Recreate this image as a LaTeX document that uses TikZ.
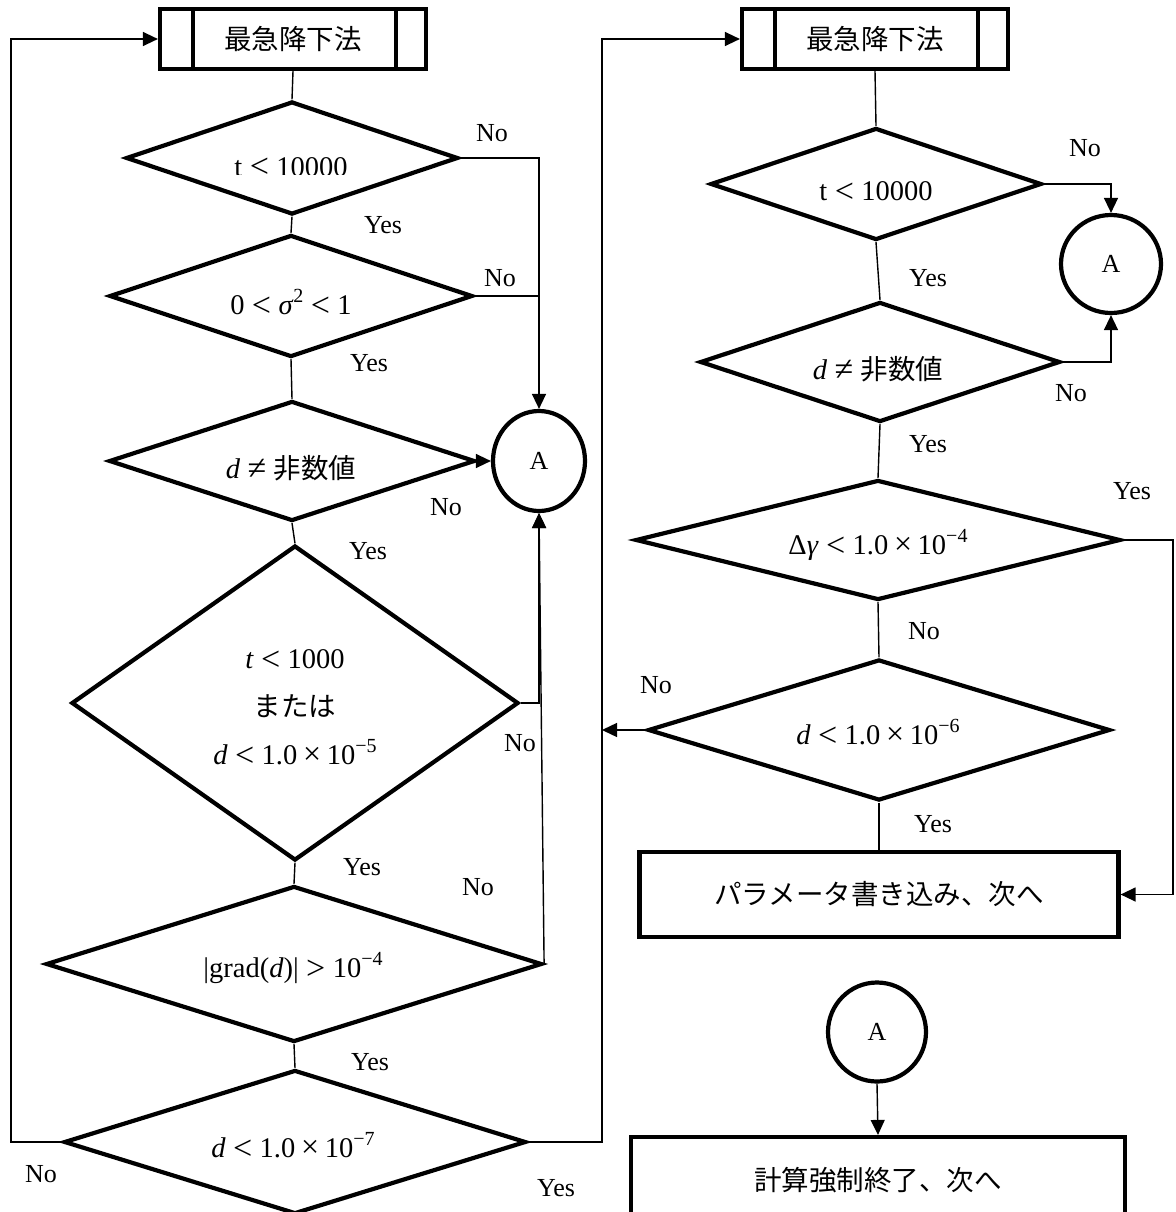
\documentclass[tikz,border=0pt]{standalone}
\usepackage{fontspec}
\setmainfont{Liberation Serif}
\newfontfamily\jpfont{Noto Sans CJK JP}
\usetikzlibrary{shapes.geometric,arrows.meta}

% Japanese text and formula text at the sizes used in the chart
\newcommand\jtxt[1]{{\jpfont\fontsize{27.5}{33}\selectfont #1}}
\newcommand\fml[1]{{\fontsize{28.5}{32}\selectfont #1}}
\newcommand\rel[1]{\hspace{0.26em}\raisebox{-1.5pt}{\fontsize{34}{34}\selectfont #1}\hspace{0.26em}}
\newcommand\bin[1]{\hspace{0.2em}{\fontsize{32}{32}\selectfont #1}\hspace{0.2em}}
\newcommand\sups[1]{\raisebox{0.42em}{\fontsize{20}{22}\selectfont #1}}

\tikzset{
  every node/.style={font=\fontsize{26}{30}\selectfont},
  shapeline/.style={draw=black, line width=4.2pt, line join=miter},
  decision/.style={shapeline, diamond, inner sep=0pt},
  procbox/.style={shapeline, rectangle, inner sep=0pt},
  subproc/.style={procbox, path picture={
      \draw[line width=4.2pt]
        ([xshift=33pt]path picture bounding box.north west) --
        ([xshift=33pt]path picture bounding box.south west);
      \draw[line width=4.2pt]
        ([xshift=-30pt]path picture bounding box.north east) --
        ([xshift=-30pt]path picture bounding box.south east);}},
  joint/.style={shapeline, ellipse, inner sep=0pt},
  txt/.style={inner sep=0pt},
  flow/.style={line width=1.4pt},
  arrow/.style={flow, -{Triangle[length=15pt,width=14pt]}},
}

\begin{document}
\begin{tikzpicture}[x=1pt,y=-1pt]
\useasboundingbox (0,0) rectangle (1175,1212);
\clip (0,0) rectangle (1175,1212);

% rails carrying the loop-back lines
\coordinate (lrail) at (11,0);
\coordinate (mrail) at (602,0);
\coordinate (rrail) at (1173,0);

% ---------------- left column ----------------
\node[subproc, minimum width=266pt, minimum height=60pt] (box1) at (293,39) {\jtxt{最急降下法}};
\node[decision, minimum width=332pt, minimum height=113pt] (d1) at (292,158) {};
\begin{scope}
  \clip (100,100) rectangle (480,174);
  \node[txt, anchor=base] (d1t) at (291,176) {\fml{t\rel{<}10000}};
\end{scope}
\node[decision, minimum width=363pt, minimum height=122pt] (d2) at (291,296) {};
\node[txt] (d2t) at (291,303) {\fml{0\rel{<}\textit{σ}\sups{2}\rel{<}1}};
\node[decision, minimum width=366pt, minimum height=120pt] (d3) at (292,461) {};
\node[txt] (d3t) at (291,468) {\fml{\textit{d}\rel{≠}}\jtxt{非数値}};
\node[joint, minimum width=92pt, minimum height=100pt] (A1) at (539,461) {A};
\node[decision, minimum width=447pt, minimum height=315pt] (d4) at (295,703) {};
\node[txt, align=center, font=\fontsize{28}{48}\selectfont] (d4t) at (295,708)
  {\fml{\textit{t}\rel{<}1000}\\ \jtxt{または}\\ \fml{\textit{d}\rel{<}1.0\bin{×}10\sups{−5}}};
\node[decision, minimum width=496pt, minimum height=156pt] (d5) at (294,964) {};
\node[txt] (d5t) at (293,968) {\fml{|grad(\textit{d})|\rel{>}10\sups{−4}}};
\node[decision, minimum width=462pt, minimum height=144pt] (d6) at (295,1142) {};
\node[txt] (d6t) at (293,1146) {\fml{\textit{d}\rel{<}1.0\bin{×}10\sups{−7}}};

% ---------------- right column ----------------
\node[subproc, minimum width=266pt, minimum height=60pt] (box2) at (875,39) {\jtxt{最急降下法}};
\node[decision, minimum width=331pt, minimum height=112pt] (d7) at (876,184) {};
\node[txt] (d7t) at (876,192) {\fml{t\rel{<}10000}};
\node[joint, minimum width=100pt, minimum height=98pt] (A2) at (1111,264) {A};
\node[decision, minimum width=360pt, minimum height=120pt] (d8) at (880,362) {};
\node[txt] (d8t) at (878,369) {\fml{\textit{d}\rel{≠}}\jtxt{非数値}};
\node[decision, minimum width=485pt, minimum height=120pt] (d9) at (878,540) {};
\node[txt] (d9t) at (878,545) {\fml{Δ\textit{γ}\rel{<}1.0\bin{×}10\sups{−4}}};
\node[decision, minimum width=462pt, minimum height=141pt] (d10) at (879,730) {};
\node[txt] (d10t) at (878,733) {\fml{\textit{d}\rel{<}1.0\bin{×}10\sups{−6}}};
\node[procbox, minimum width=479pt, minimum height=85pt] (box3) at (879,894.5) {\jtxt{パラメータ書き込み、次へ}};
\node[joint, minimum width=98pt, minimum height=99pt] (A3) at (877,1032) {A};
\node[procbox, minimum width=494pt, minimum height=86pt] (box4) at (878,1180) {\jtxt{計算強制終了、次へ}};

% ---------------- connectors, left ----------------
\draw[flow] (box1.south) -- (d1.north);
\draw[arrow] (d1.east) -| (A1.north);
\draw[flow] (d1.south) -- (d2.north);
\draw[flow] (d2.east) -- (d2.east -| A1.north);
\draw[flow] (d2.south) -- (d3.north);
\draw[arrow] (d3.east) -- (A1.west);
\draw[flow] (d3.south) -- (d4.north);
\draw[arrow] (d4.east) -| (A1.south);
\draw[flow] (d4.south) -- (d5.north);
\draw[arrow] (d5.east) -- (A1.south);
\draw[flow] (d5.south) -- (d6.north);
\draw[arrow] (d6.west) -- (d6.west -| lrail) -- (lrail |- box1.west) -- (box1.west);
\draw[arrow] (d6.east) -- (d6.east -| mrail) -- (mrail |- box2.west) -- (box2.west);

% ---------------- connectors, right ----------------
\draw[flow] (box2.south) -- (d7.north);
\draw[arrow] (d7.east) -| (A2.north);
\draw[flow] (d7.south) -- (d8.north);
\draw[arrow] (d8.east) -| (A2.south);
\draw[flow] (d8.south) -- (d9.north);
\draw[arrow] (d9.east) -- (d9.east -| rrail) -- (rrail |- box3.east) -- (box3.east);
\draw[flow] (d9.south) -- (d10.north);
\draw[arrow] (d10.west) -- (d10.west -| mrail);
\draw[flow] (d10.south) -- (box3.north);
\draw[arrow] (A3.south) -- (box4.north);

% ---------------- branch labels ----------------
\node[txt] (l1) at (492,133) {No};
\node[txt] (l2) at (383,225) {Yes};
\node[txt] (l3) at (500,278) {No};
\node[txt] (l4) at (369,363) {Yes};
\node[txt] (l5) at (446,507) {No};
\node[txt] (l6) at (368,551) {Yes};
\node[txt] (l7) at (520,743) {No};
\node[txt] (l8) at (362,867) {Yes};
\node[txt] (l9) at (478,887) {No};
\node[txt] (l10) at (370,1062) {Yes};
\node[txt] (l11) at (41,1174) {No};
\node[txt] (l12) at (556,1188) {Yes};
\node[txt] (r1) at (1085,148) {No};
\node[txt] (r2) at (928,278) {Yes};
\node[txt] (r3) at (1071,393) {No};
\node[txt] (r4) at (928,444) {Yes};
\node[txt] (r5) at (1132,491) {Yes};
\node[txt] (r6) at (924,631) {No};
\node[txt] (r7) at (656,685) {No};
\node[txt] (r8) at (933,824) {Yes};
\end{tikzpicture}
\end{document}
